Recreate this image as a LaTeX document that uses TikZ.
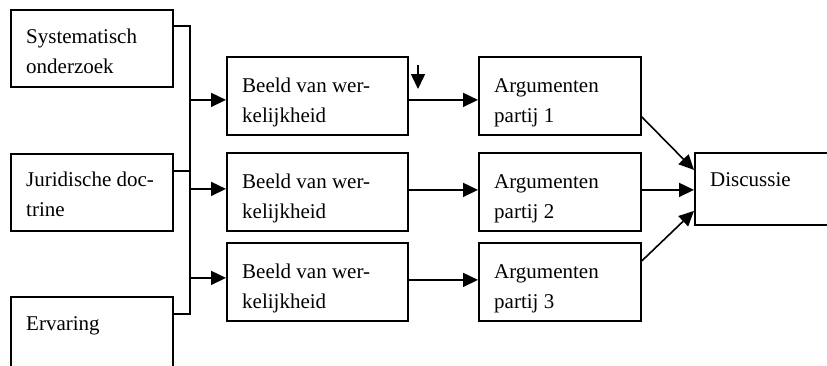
\documentclass[tikz,border=0pt]{standalone}
\usepackage{fontspec}
\setmainfont{Liberation Serif}
\usetikzlibrary{arrows.meta}
\begin{document}
\begin{tikzpicture}[x=1pt,y=-1pt,
  box/.style={draw, line width=1.8pt, rectangle, inner sep=0pt, anchor=north west},
  lbl/.style={anchor=base west, inner sep=0pt, align=left, font=\fontsize{21}{30}\selectfont},
  wire/.style={line width=1.6pt},
  conn/.style={line width=1.6pt, -{Triangle[length=15pt,width=14pt]}}]
\useasboundingbox (0,0) rectangle (827,365);
\clip (0,0) rectangle (827,365);
% left boxes
\node[box, minimum width=162pt, minimum height=77pt] (s) at (10,9) {};
\node[box, minimum width=162pt, minimum height=77pt] (j) at (10,153) {};
\node[box, minimum width=162pt, minimum height=80pt] (e) at (10,296) {};
% middle boxes
\node[box, minimum width=181pt, minimum height=78pt] (b1) at (226,56) {};
\node[box, minimum width=181pt, minimum height=78pt] (b2) at (226,152) {};
\node[box, minimum width=181pt, minimum height=78pt] (b3) at (226,242) {};
% argument boxes
\node[box, minimum width=162pt, minimum height=78pt] (a1) at (478,56) {};
\node[box, minimum width=162pt, minimum height=78pt] (a2) at (478,152) {};
\node[box, minimum width=162pt, minimum height=78pt] (a3) at (478,242) {};
% discussion box
\node[box, minimum width=140pt, minimum height=72pt] (d) at (694,152) {};
% texts (anchor = baseline of last line)
\node[lbl] (st) at ([xshift=16pt,yshift=-64pt]s.north west) {Systematisch\\onderzoek};
\node[lbl] (jt) at ([xshift=16pt,yshift=-63pt]j.north west) {Juridische doc-\\trine};
\node[lbl] (et) at ([xshift=16pt,yshift=-34pt]e.north west) {Ervaring};
\node[lbl] (b1t) at ([xshift=16pt,yshift=-66pt]b1.north west) {Beeld van wer-\\kelijkheid};
\node[lbl] (b2t) at ([xshift=16pt,yshift=-66pt]b2.north west) {Beeld van wer-\\kelijkheid};
\node[lbl] (b3t) at ([xshift=16pt,yshift=-66pt]b3.north west) {Beeld van wer-\\kelijkheid};
\node[lbl] (a1t) at ([xshift=16pt,yshift=-66pt]a1.north west) {Argumenten\\partij 1};
\node[lbl] (a2t) at ([xshift=16pt,yshift=-66pt]a2.north west) {Argumenten\\partij 2};
\node[lbl] (a3t) at ([xshift=16pt,yshift=-66pt]a3.north west) {Argumenten\\partij 3};
\node[lbl] (dt) at ([xshift=16pt,yshift=-34pt]d.north west) {Discussie};
% bus
\coordinate (bus) at (190,0);
\draw[wire] ([yshift=-17pt]s.north east) -| ([yshift=-18pt]e.north east -| bus) -- ([yshift=-18pt]e.north east);
\draw[wire] ([yshift=-18pt]j.north east) -- ([yshift=-18pt]j.north east -| bus);
\draw[conn] ([yshift=-4pt]b1.west -| bus) -- ([yshift=-4pt]b1.west);
\draw[conn] ([yshift=3pt]b2.west -| bus) -- ([yshift=3pt]b2.west);
\draw[conn] ([yshift=4pt]b3.west -| bus) -- ([yshift=4pt]b3.west);
% beeld -> argumenten
\draw[conn] ([yshift=-4pt]b1.east) -- ([yshift=-4pt]b1.east -| a1.west);
\draw[conn] ([yshift=2pt]b2.east) -- ([yshift=2pt]b2.east -| a2.west);
\draw[conn] ([yshift=2pt]b3.east) -- ([yshift=2pt]b3.east -| a3.west);
% argumenten -> discussie
\draw[conn] ([yshift=-21pt]a1.east) -- ([yshift=19pt]d.west);
\draw[conn] ([yshift=2pt]a2.east) -- ([yshift=-1pt]d.west);
\draw[conn] ([yshift=21pt]a3.east) -- ([yshift=-22pt]d.west);
% small arrow
\coordinate (sa) at (418,65);
\coordinate (sb) at (418,89);
\draw[conn] (sa) -- (sb);
\end{tikzpicture}
\end{document}
